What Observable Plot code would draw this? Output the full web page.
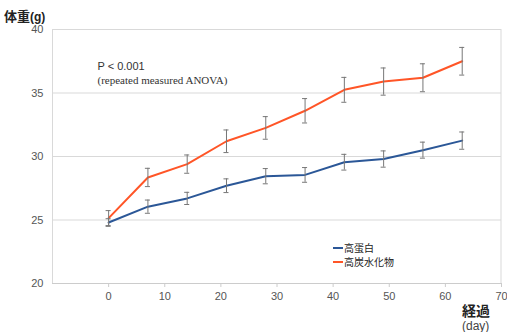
<!DOCTYPE html>
<html><head><meta charset="utf-8">
<script src="https://cdn.jsdelivr.net/npm/d3@7"></script>
<script src="https://cdn.jsdelivr.net/npm/@observablehq/plot@0.6"></script>
<style>
body{margin:0;background:#fff;}
#c{position:relative;width:507px;height:332px;}
</style></head><body><div id="c"></div>
<script>
const days = [0, 7, 14, 21, 28, 35, 42, 49, 56, 63];
const seriesNames = ["高蛋白", "高炭水化物"];
const protein = [24.8, 26.05, 26.7, 27.7, 28.45, 28.55, 29.55, 29.8, 30.5, 31.25];
const proteinErr = [0.3, 0.52, 0.48, 0.54, 0.6, 0.58, 0.62, 0.64, 0.63, 0.68];
const carb = [25.15, 28.35, 29.4, 31.2, 32.25, 33.6, 35.25, 35.9, 36.2, 37.5];
const carbErr = [0.59, 0.72, 0.72, 0.89, 0.89, 0.96, 0.98, 1.07, 1.1, 1.09];
const yTicks = [20, 25, 30, 35, 40];
const xTicks = [0, 10, 20, 30, 40, 50, 60, 70];
const colors = ["#2b5797", "#ff5527"];

const data = [];
days.forEach((d, i) => {
  data.push({series: seriesNames[0], day: d, v: protein[i], e: proteinErr[i]});
  data.push({series: seriesNames[1], day: d, v: carb[i], e: carbErr[i]});
});

const sans = "'Liberation Sans', Arial, sans-serif";
const cjk = "'Noto Sans CJK JP', sans-serif";

const chart = Plot.plot({
  width: 507, height: 332,
  marginLeft: 52, marginRight: 6, marginTop: 29, marginBottom: 49,
  style: {fontFamily: sans, fontSize: "11px", color: "#444", background: "#fff"},
  x: {domain: [-10, 70], ticks: xTicks, label: null},
  y: {domain: [20, 40], ticks: yTicks, label: null},
  color: {domain: seriesNames, range: colors},
  marks: [
    Plot.gridY(yTicks, {stroke: "#d9d9d9", strokeOpacity: 1, strokeWidth: 1}),
    Plot.ruleX([-10], {stroke: "#d9d9d9"}),
    Plot.ruleX([70], {stroke: "#d9d9d9", dx: -0.5}),
    Plot.ruleY([20], {stroke: "#ccc"}),
    Plot.axisX({ticks: xTicks, tickSize: 4, stroke: "#ccc", fill: "#555", fontSize: 11, label: null}),
    Plot.axisY({ticks: yTicks, tickSize: 0, fill: "#555", fontSize: 11, label: null}),
    Plot.line(data, {x: "day", y: "v", stroke: "series", strokeWidth: 2}),
    Plot.ruleX(data, {x: "day", y1: d => d.v - d.e, y2: d => d.v + d.e, stroke: "#777", strokeWidth: 1}),
    Plot.ruleY(data, {y: d => d.v - d.e, x1: d => d.day - 0.45, x2: d => d.day + 0.45, stroke: "#777", strokeWidth: 1}),
    Plot.ruleY(data, {y: d => d.v + d.e, x1: d => d.day - 0.45, x2: d => d.day + 0.45, stroke: "#777", strokeWidth: 1}),
    Plot.text(["P < 0.001"], {frameAnchor: "top-left", dx: 45, dy: 33, textAnchor: "start", fontSize: 11, fill: "#333", fontFamily: sans}),
    Plot.text(["(repeated measured ANOVA)"], {frameAnchor: "top-left", dx: 45, dy: 47, textAnchor: "start", fontSize: 11, fill: "#333", fontFamily: "'Liberation Serif', serif"})
  ]
});
document.getElementById("c").appendChild(chart);

const svg = d3.select(chart);
function txt(x, y, s, fam, size, weight, fill) {
  svg.append("text").attr("x", x).attr("y", y).attr("text-anchor", "start")
    .attr("font-family", fam).attr("font-size", size).attr("font-weight", weight).attr("fill", fill).text(s);
}
// axis titles
txt(4, 21, "体重", cjk, 13, "bold", "#222");
txt(30, 21, "(g)", sans, 12, "bold", "#222");
txt(462, 316, "経過", cjk, 14, "bold", "#222");
txt(462, 330, "(day)", sans, 12, "normal", "#444");
// legend
seriesNames.forEach((n, i) => {
  const y = 248 + i * 14;
  svg.append("line").attr("x1", 333).attr("x2", 343).attr("y1", y).attr("y2", y).attr("stroke", colors[i]).attr("stroke-width", 2);
  txt(344, y + 4, n, cjk, 10, "normal", "#222");
});
</script></body></html>
